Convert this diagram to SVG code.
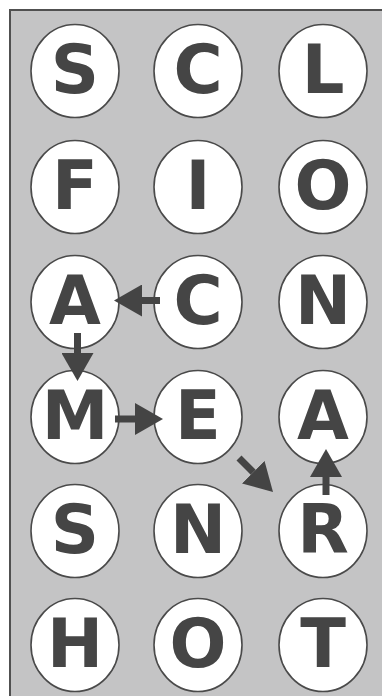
<svg xmlns="http://www.w3.org/2000/svg" width="382" height="696" viewBox="0 0 382 696">
<style>
.node ellipse{fill:#ffffff;stroke:#4a4a4a;stroke-width:1.6}
.node text{font-family:"DejaVu Sans","Liberation Sans",sans-serif;font-weight:bold;font-size:67px;fill:#454545;text-anchor:middle}
.conn line{stroke:#444444;stroke-width:7}
</style>
<defs>
<marker id="ah" markerUnits="userSpaceOnUse" viewBox="0 0 28 32" refX="0" refY="16" markerWidth="28" markerHeight="32" orient="auto">
<path d="M0,0 L28,16 L0,32 z" fill="#444444"/>
</marker>
</defs>
<rect x="0" y="0" width="382" height="696" fill="#ffffff"/>
<rect x="10" y="10" width="390" height="700" fill="#c4c4c5" stroke="#505050" stroke-width="2"/>
<g id="n-r1c1" class="node"><ellipse cx="75" cy="71" rx="44" ry="46.5"/><text x="75" y="92.5">S</text></g>
<g id="n-r1c2" class="node"><ellipse cx="198" cy="71" rx="44" ry="46.5"/><text x="198" y="92.5">C</text></g>
<g id="n-r1c3" class="node"><ellipse cx="323" cy="71" rx="44" ry="46.5"/><text x="323" y="92.5">L</text></g>
<g id="n-r2c1" class="node"><ellipse cx="75" cy="187" rx="44" ry="46.5"/><text x="75" y="208.5">F</text></g>
<g id="n-r2c2" class="node"><ellipse cx="198" cy="187" rx="44" ry="46.5"/><text x="198" y="208.5">I</text></g>
<g id="n-r2c3" class="node"><ellipse cx="323" cy="187" rx="44" ry="46.5"/><text x="323" y="208.5">O</text></g>
<g id="n-r3c1" class="node"><ellipse cx="75" cy="302" rx="44" ry="46.5"/><text x="75" y="323.5">A</text></g>
<g id="n-r3c2" class="node"><ellipse cx="198" cy="302" rx="44" ry="46.5"/><text x="198" y="323.5">C</text></g>
<g id="n-r3c3" class="node"><ellipse cx="323" cy="302" rx="44" ry="46.5"/><text x="323" y="323.5">N</text></g>
<g id="n-r4c1" class="node"><ellipse cx="75" cy="417" rx="44" ry="46.5"/><text x="75" y="438.5">M</text></g>
<g id="n-r4c2" class="node"><ellipse cx="198" cy="417" rx="44" ry="46.5"/><text x="198" y="438.5">E</text></g>
<g id="n-r4c3" class="node"><ellipse cx="323" cy="417" rx="44" ry="46.5"/><text x="323" y="438.5">A</text></g>
<g id="n-r5c1" class="node"><ellipse cx="75" cy="531" rx="44" ry="46.5"/><text x="75" y="552.5">S</text></g>
<g id="n-r5c2" class="node"><ellipse cx="198" cy="531" rx="44" ry="46.5"/><text x="198" y="552.5">N</text></g>
<g id="n-r5c3" class="node"><ellipse cx="323" cy="531" rx="44" ry="46.5"/><text x="323" y="552.5">R</text></g>
<g id="n-r6c1" class="node"><ellipse cx="75" cy="645" rx="44" ry="46.5"/><text x="75" y="666.5">H</text></g>
<g id="n-r6c2" class="node"><ellipse cx="198" cy="645" rx="44" ry="46.5"/><text x="198" y="666.5">O</text></g>
<g id="n-r6c3" class="node"><ellipse cx="323" cy="645" rx="44" ry="46.5"/><text x="323" y="666.5">T</text></g>
<g id="connectors" class="conn">
<line x1="160" y1="300.5" x2="142" y2="300.5" marker-end="url(#ah)"/>
<line x1="77.5" y1="333" x2="77.5" y2="353" marker-end="url(#ah)"/>
<line x1="115" y1="419" x2="135" y2="419" marker-end="url(#ah)"/>
<line x1="239" y1="458" x2="253.2" y2="472.2" marker-end="url(#ah)"/>
<line x1="326" y1="495" x2="326" y2="477" marker-end="url(#ah)"/>
</g>
</svg>
